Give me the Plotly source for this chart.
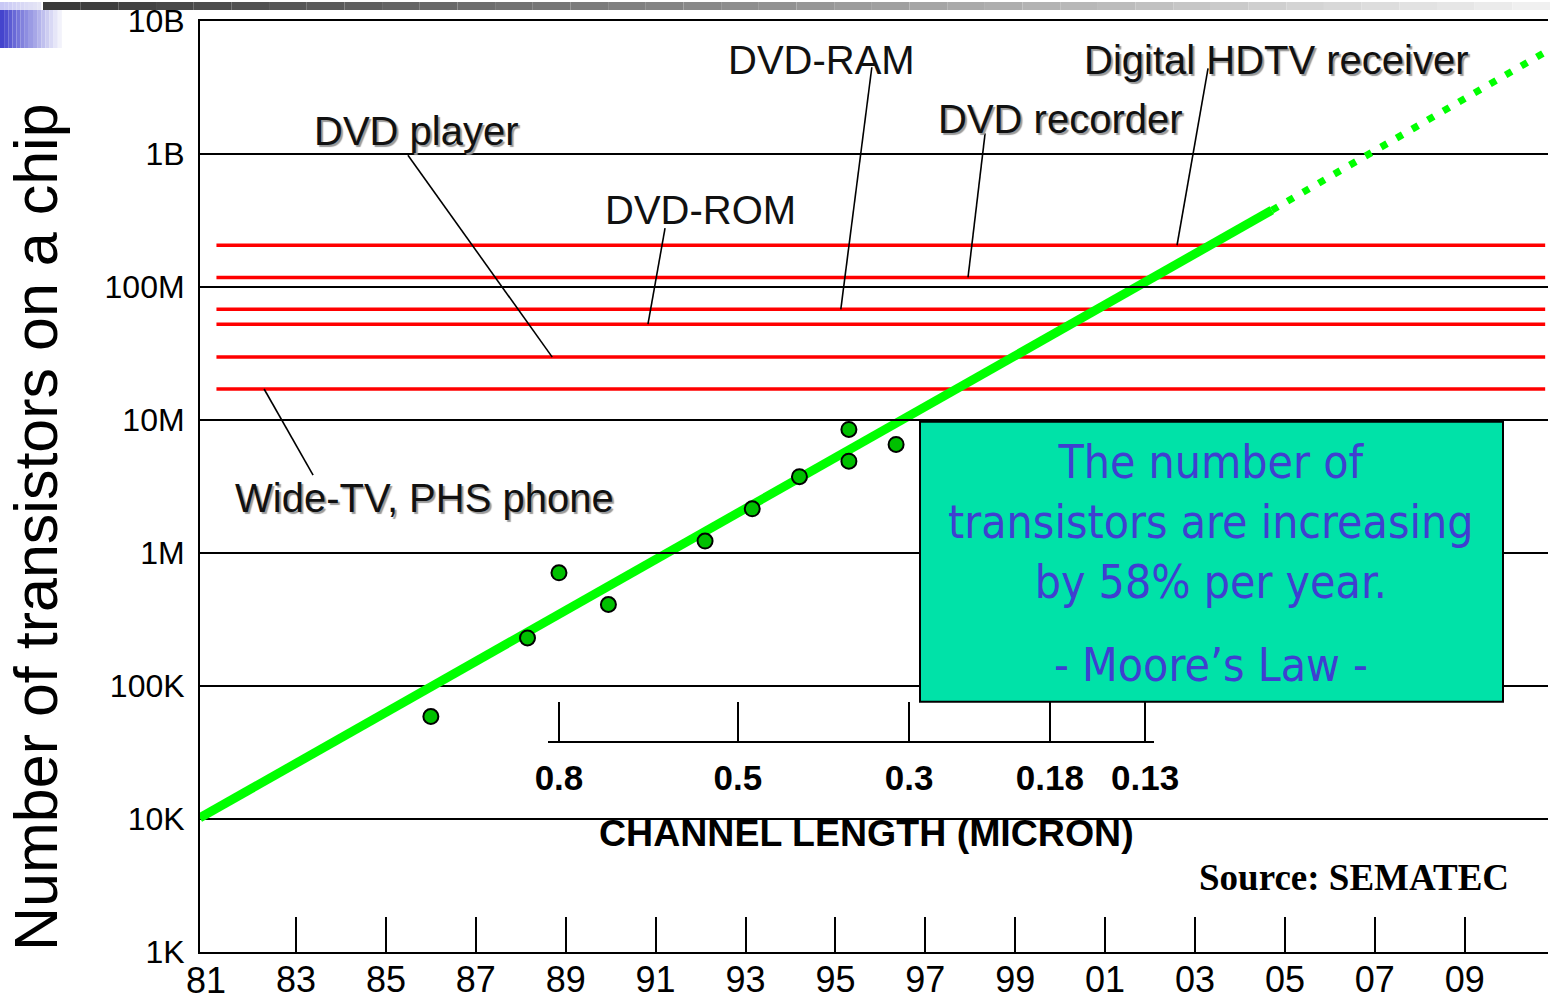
import numpy as np
import plotly.graph_objects as go

# ---------------- data ----------------
year_ticks = [1983, 1985, 1987, 1989, 1991, 1993, 1995, 1997, 1999, 2001, 2003, 2005, 2007, 2009]
year_labels = ["83", "85", "87", "89", "91", "93", "95", "97", "99", "01", "03", "05", "07", "09"]
first_year, first_year_label = 1981, "81"

count_ticks = [1e3, 1e4, 1e5, 1e6, 1e7, 1e8, 1e9, 1e10]
count_labels = ["1K", "10K", "100K", "1M", "10M", "100M", "1B", "10B"]

chip_years = [1986.0, 1988.15, 1988.85, 1989.95, 1992.1, 1993.15, 1994.2, 1995.3, 1995.3, 1996.35]
chip_counts = [5.9e4, 2.3e5, 7.1e5, 4.1e5, 1.23e6, 2.15e6, 3.75e6, 8.5e6, 4.9e6, 6.55e6]

trend_years = [1980.86, 2004.71]
trend_counts = [1.02e4, 3.78e8]
forecast_years = [2004.71, 2010.74]
forecast_counts = [3.78e8, 5.7e9]

product_names = ["Digital HDTV receiver", "DVD recorder", "DVD-RAM", "DVD-ROM", "DVD player", "Wide-TV, PHS phone"]
product_counts = [2.06e8, 1.18e8, 6.8e7, 5.25e7, 2.97e7, 1.71e7]
product_span = [1981.23, 2010.79]
# label centre, leader start (near label) and leader end (on the product line)
label_years = [2004.82, 2000.0, 1994.7, 1991.99, 1985.69, 1985.85]
label_counts = [5.07e9, 1.82e9, 5.07e9, 3.78e8, 1.48e9, 2.58e6]
leader_start_years = [2003.29, 1998.33, 1995.81, 1991.21, 1985.49, 1983.38]
leader_start_counts = [4.41e9, 1.43e9, 4.49e9, 2.77e8, 9.79e8, 3.85e6]
leader_end_years = [2002.60, 1997.95, 1995.12, 1990.83, 1988.70, 1982.29]
label_shadow = [True, True, False, False, True, True]

channel_labels = ["0.8", "0.5", "0.3", "0.18", "0.13"]
channel_years = [1988.85, 1992.83, 1996.64, 1999.77, 2001.89]
channel_axis_span = [1988.606, 2002.088]

# ---------------- geometry helpers (pixels -> paper) ----------------
W, H = 1550, 1000
ML, MR, MT, MB = 200, 2, 21, 48
PW, PH = W - ML - MR, H - MT - MB


def px(x):
    return (x - ML) / PW


def py(y):
    return (H - MB - y) / PH


FONT = "Liberation Sans, Arial, sans-serif"

fig = go.Figure()

# product requirement lines (red)
for name, cnt in zip(product_names, product_counts):
    fig.add_trace(go.Scatter(x=product_span, y=[cnt, cnt], mode="lines",
                             line=dict(color="#ff0000", width=3.5), hoverinfo="skip",
                             showlegend=False, name=name))

# trend line and forecast
fig.add_trace(go.Scatter(x=trend_years, y=trend_counts, mode="lines",
                         line=dict(color="#00ff00", width=9), hoverinfo="skip", showlegend=False))
fig.add_trace(go.Scatter(x=forecast_years, y=forecast_counts, mode="lines",
                         line=dict(color="#00ff00", width=7, dash="7px,11px"),
                         hoverinfo="skip", showlegend=False))

# chips
fig.add_trace(go.Scatter(x=chip_years, y=chip_counts, mode="markers",
                         marker=dict(size=15, color="#00c000", line=dict(color="black", width=2)),
                         showlegend=False))

# leader lines
for i in range(len(product_names)):
    fig.add_trace(go.Scatter(x=[leader_start_years[i], leader_end_years[i]],
                             y=[leader_start_counts[i], product_counts[i]], mode="lines",
                             line=dict(color="black", width=1.6), hoverinfo="skip", showlegend=False))

# channel-length axis carrier (invisible)
fig.add_trace(go.Scatter(x=channel_years, y=[1e3] * len(channel_years), xaxis="x2", yaxis="y",
                         mode="markers", marker=dict(opacity=0), hoverinfo="skip", showlegend=False))

annotations = []
for i, name in enumerate(product_names):
    f = dict(family=FONT, size=40, color="#111111")
    if label_shadow[i]:
        f["shadow"] = "2px 2px 1px #9a9a9a"
    annotations.append(dict(x=label_years[i], y=np.log10(label_counts[i]), xref="x", yref="y",
                            text=name, showarrow=False, font=f, xanchor="center", yanchor="middle"))

# first year label (its tick coincides with the y axis)
annotations.append(dict(x=first_year, y=py(980), xref="x", yref="paper", text=first_year_label,
                        showarrow=False, font=dict(family=FONT, size=36, color="black"),
                        xanchor="center", yanchor="middle"))

annotations.append(dict(x=px(36), y=py(527), xref="paper", yref="paper",
                        text="Number of transistors on a chip", textangle=-90, showarrow=False,
                        font=dict(family=FONT, size=61, color="black"), xanchor="center", yanchor="middle"))

annotations.append(dict(x=px(866), y=py(833), xref="paper", yref="paper",
                        text="<b>CHANNEL LENGTH (MICRON)</b>", showarrow=False,
                        font=dict(family=FONT, size=37.5, color="black"), xanchor="center", yanchor="middle"))

annotations.append(dict(x=px(1354), y=py(877), xref="paper", yref="paper",
                        text="<b>Source: SEMATEC</b>", showarrow=False,
                        font=dict(family="Liberation Serif, Times New Roman, serif", size=37, color="black"),
                        xanchor="center", yanchor="middle"))

BOXFONT = "Tahoma, DejaVu Sans Condensed, DejaVu Sans, sans-serif"
annotations.append(dict(x=px(1211), y=py(521.5), xref="paper", yref="paper",
                        text="The number of<br>transistors are increasing<br>by 58% per year.",
                        showarrow=False, align="center",
                        font=dict(family=BOXFONT, size=46, color="#3f3fd0"),
                        xanchor="center", yanchor="middle"))
annotations.append(dict(x=px(1211), y=py(665), xref="paper", yref="paper",
                        text="- Moore’s Law -", showarrow=False,
                        font=dict(family=BOXFONT, size=46, color="#3f3fd0"),
                        xanchor="center", yanchor="middle"))

shapes = []
# callout box
shapes.append(dict(type="rect", xref="paper", yref="paper", x0=px(920), x1=px(1503),
                   y0=py(701.7), y1=py(421.7), fillcolor="#00e2a8",
                   line=dict(color="black", width=2), layer="above"))
# slide decoration: grey gradient bar at top and blue gradient square
nbar = 40
for k in range(nbar):
    x0 = 43 + (1550 - 43) * k / nbar
    x1 = 43 + (1550 - 43) * (k + 1) / nbar
    g = int(58 + (240 - 58) * k / (nbar - 1))
    shapes.append(dict(type="rect", xref="paper", yref="paper", x0=px(x0), x1=px(x1),
                       y0=py(10), y1=py(2), fillcolor=f"rgb({g},{g},{g})", line=dict(width=0),
                       layer="above"))
nsq = 16
for k in range(nsq):
    x0 = 66 * k / nsq
    x1 = 66 * (k + 1) / nsq
    t = k / (nsq - 1)
    r = int(68 + (255 - 68) * t)
    b = int(205 + (255 - 205) * t)
    shapes.append(dict(type="rect", xref="paper", yref="paper", x0=px(x0), x1=px(x1),
                       y0=py(48), y1=py(10), fillcolor=f"rgb({r},{r},{b})", line=dict(width=0),
                       layer="above"))
    if x1 <= 44:
        rr = int(200 + (250 - 200) * t)
        shapes.append(dict(type="rect", xref="paper", yref="paper", x0=px(x0), x1=px(x1),
                           y0=py(10), y1=py(2), fillcolor=f"rgb({rr},{rr},245)", line=dict(width=0),
                           layer="above"))

fig.update_layout(
    width=W, height=H,
    margin=dict(l=ML, r=MR, t=MT, b=MB, pad=0),
    paper_bgcolor="white", plot_bgcolor="rgba(0,0,0,0)",
    showlegend=False,
    xaxis=dict(range=[1980.864, 2010.853], tickvals=year_ticks, ticktext=year_labels,
               ticks="inside", ticklen=35, tickwidth=1.5, tickcolor="black",
               showline=True, linecolor="black", linewidth=2, mirror=True,
               showgrid=False, zeroline=False, automargin=False,
               tickfont=dict(family=FONT, size=36, color="black"), ticklabelstandoff=-5),
    xaxis2=dict(anchor="free", position=py(742),
                domain=[px(548), px(1154)], range=channel_axis_span,
                tickvals=channel_years, ticktext=channel_labels,
                ticks="inside", ticklen=39, tickwidth=1.5, tickcolor="black",
                showline=True, linecolor="black", linewidth=2,
                showgrid=False, zeroline=False, automargin=False,
                tickfont=dict(family=FONT, size=35, color="black", weight="bold"),
                ticklabelstandoff=5),
    yaxis=dict(type="log", range=[3, 10], tickvals=count_ticks, ticktext=count_labels,
               ticks="", showline=True, linecolor="black", linewidth=2,
               showgrid=True, gridcolor="black", gridwidth=1.8, zeroline=False,
               automargin=False, ticklabelstandoff=7,
               tickfont=dict(family=FONT, size=32, color="black")),
    annotations=annotations,
    shapes=shapes,
)

fig.write_html("out.html", config={"displayModeBar": False},
               post_script="document.body.style.margin='0px';document.body.style.overflow='hidden';")
